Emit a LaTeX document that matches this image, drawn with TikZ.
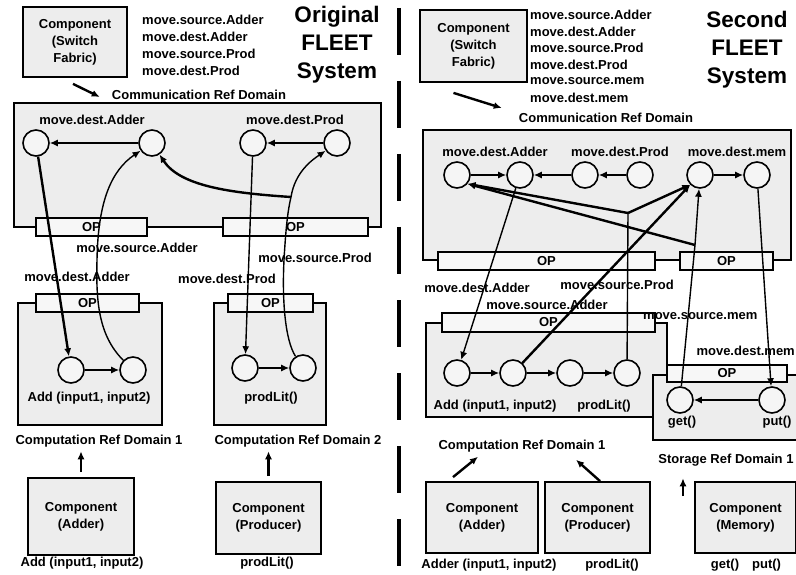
\documentclass[tikz,border=0pt]{standalone}
\usepackage{fontspec}
\setmainfont{Liberation Sans}
\usetikzlibrary{arrows.meta,positioning}

\begin{document}
\begin{tikzpicture}[x=1pt,y=-1pt,>={Latex[length=8pt,width=7pt]},
    font=\fontsize{13}{17}\selectfont\bfseries,
    box/.style={draw,line width=1.8pt,fill=black!7,align=center,inner sep=0pt},
    opbar/.style={draw,line width=1.8pt,fill=black!3,minimum height=18pt,inner sep=0pt},
    port/.style={circle,draw,line width=1.6pt,fill=black!4,minimum size=26pt,inner sep=0pt},
    lbl/.style={inner sep=0pt},
    title/.style={font=\fontsize{22.5}{28}\selectfont\bfseries,align=center},
    link/.style={->,line width=1.4pt},
    wire/.style={->,line width=2.4pt}]
  \useasboundingbox (0,0) rectangle (796,575);
  % separator
  \draw[line width=3.5pt,dash pattern=on 47pt off 26pt] (399,8) -- (399,567);

  % ===== original FLEET system =====
  \node[box,minimum width=104pt,minimum height=70pt] (sfL) at (75,42) {Component\\(Switch\\Fabric)};
  \foreach \msg [count=\i] in {move.source.Adder,move.dest.Adder,move.source.Prod,move.dest.Prod}
    \node[lbl,anchor=west] (msgL\i) at (142,3+17*\i) {\msg};
  \node[title] (titleL) at (337,45) {Original\\FLEET\\System};
  \node[lbl] (commL) at (199,95) {Communication Ref Domain};
  \draw[wire] ([shift={(-2,6)}]sfL.south) -- ([shift={(-12,2)}]commL.west);

  % communication domain
  \node[box,minimum width=367pt,minimum height=124pt] (cdomL) at (197.5,165) {};
  \node[opbar,minimum width=111pt] (opL1) at (91.5,227) {OP};
  \node[opbar,minimum width=145pt] (opL2) at (295.5,227) {OP};
  \foreach \n/\x in {1/36,2/152,3/253,4/337}
    \node[port] (cL\n) at (\x,143) {};
  \draw[link] (cL2) -- (cL1);
  \draw[link] (cL4) -- (cL3);
  \node[lbl] (dAdderL) at (92,120) {move.dest.Adder};
  \node[lbl] (dProdL) at (295,120) {move.dest.Prod};

  % computation domains
  \node[box,minimum width=144pt,minimum height=122pt] (compL1) at (90,364) {};
  \node[box,minimum width=112pt,minimum height=122pt] (compL2) at (270,364) {};
  \node[opbar,minimum width=103pt] (opL3) at (87.5,303) {OP};
  \node[opbar,minimum width=85pt] (opL4) at (270.5,303) {OP};
  \node[port] (aL1) at (71,370) {};
  \node[port] (aL2) at (133,370) {};
  \node[port] (pL1) at (245,368) {};
  \node[port] (pL2) at (303,368) {};
  \draw[link] (aL1) -- (aL2);
  \draw[link] (pL1) -- (pL2);
  \node[lbl] (fnAddL) at (89,398) {Add (input1, input2)};
  \node[lbl] (fnProdL) at (271,398) {prodLit()};

  % moves
  \draw[wire] (cL1) -- (aL1);
  \draw[link] (aL2) .. controls (98,335) and (96,300) .. (97,260) .. controls (98,200) and (112,170) .. (cL2);
  \draw[link] (cL3) -- (pL1);
  \coordinate (forkL) at (291,197);
  \draw[link] (pL2) .. controls (285,340) and (282,300) .. (284,260) .. controls (286,225) and (288,210) .. (forkL)
    .. controls (295,172) and (312,160) .. (cL4);
  \draw[wire] (forkL) .. controls (230,193) and (180,186) .. (cL2);
  \node[lbl] (sAdderL) at (137,248) {move.source.Adder};
  \node[lbl] (dAdderL2) at (77,277) {move.dest.Adder};
  \node[lbl] (sProdL) at (315,258) {move.source.Prod};
  \node[lbl] (dProdL2) at (227,279) {move.dest.Prod};

  % components
  \node[lbl] (crdL1) at (99,441) {Computation Ref Domain 1};
  \node[lbl] (crdL2) at (298,441) {Computation Ref Domain 2};
  \node[box,minimum width=106pt,minimum height=77pt] (adderL) at (81,516.5) {Component\\(Adder)};
  \node[box,minimum width=105pt,minimum height=72pt] (prodL) at (268.5,518) {Component\\(Producer)};
  \draw[wire,shorten <=5pt,shorten >=4pt] (adderL.north) -- (adderL.north |- crdL1.south);
  \draw[wire,shorten <=5pt,shorten >=4pt] (prodL.north) -- (prodL.north |- crdL2.south);
  \node[lbl] (apiAdderL) at (82,563) {Add (input1, input2)};
  \node[lbl] (apiProdL) at (267,563) {prodLit()};

  % ===== second FLEET system =====
  \node[box,minimum width=107pt,minimum height=72pt] (sfR) at (473.5,46) {Component\\(Switch\\Fabric)};
  \foreach \msg [count=\i] in {move.source.Adder,move.dest.Adder,move.source.Prod,move.dest.Prod,move.source.mem,move.dest.mem}
    \node[lbl,anchor=west] (msgR\i) at (530,-1.5+16.5*\i) {\msg};
  \node[title] (titleR) at (747,50) {Second\\FLEET\\System};
  \node[lbl] (commR) at (606,118) {Communication Ref Domain};
  \draw[wire] ([shift={(-20,10)}]sfR.south) -- ([shift={(-17,-10)}]commR.west);

  % communication domain
  \node[box,minimum width=368pt,minimum height=130pt] (cdomR) at (607,195) {};
  \node[opbar,minimum width=217pt] (opR1) at (546.5,261) {OP};
  \node[opbar,minimum width=93pt] (opR2) at (726.5,261) {OP};
  \foreach \n/\x in {1/457,2/520,3/585,4/640,5/700,6/757}
    \node[port] (rR\n) at (\x,175) {};
  \draw[link] (rR1) -- (rR2);
  \draw[link] (rR3) -- (rR2);
  \draw[link] (rR4) -- (rR3);
  \draw[link] (rR5) -- (rR6);
  \node[lbl] (dAdderR) at (495,152) {move.dest.Adder};
  \node[lbl] (dProdR) at (620,152) {move.dest.Prod};
  \node[lbl] (dMemR) at (737,152) {move.dest.mem};

  % computation and storage domains
  \node[box,minimum width=241pt,minimum height=94pt] (compR) at (546.5,370) {};
  \node[opbar,minimum width=213pt,minimum height=19pt] (opR3) at (548.5,322.5) {OP};
  \node[box,minimum width=150pt,minimum height=65pt] (storR) at (728,407.5) {};
  \node[opbar,minimum width=120pt,minimum height=17pt] (opR4) at (727,373.5) {OP};
  \foreach \n/\x in {1/457,2/513,3/570,4/627}
    \node[port] (bR\n) at (\x,373) {};
  \draw[link] (bR1) -- (bR2);
  \draw[link] (bR2) -- (bR3);
  \draw[link] (bR3) -- (bR4);
  \node[port] (getR) at (680,400) {};
  \node[port] (putR) at (772,400) {};
  \draw[link] (putR) -- (getR);
  \node[lbl] (fnAddR) at (495,406) {Add (input1, input2)};
  \node[lbl] (fnProdR) at (604,406) {prodLit()};
  \node[lbl] (fnGetR) at (682,422) {get()};
  \node[lbl] (fnPutR) at (777,422) {put()};

  % moves
  \draw[link] (rR2) -- (bR1);
  \coordinate (forkR1) at (628,213);
  \draw[line width=1.4pt] (bR4) -- (forkR1);
  \draw[wire] (forkR1) -- (rR1.-40);
  \draw[wire] (forkR1) -- (rR5.south west);
  \draw[wire] (bR2) -- (rR5.south west);
  \coordinate (forkR2) at (695,245);
  \draw[link] (getR) -- (forkR2) -- (rR5);
  \draw[wire] (forkR2) -- (rR1.-40);
  \draw[link] (rR6) -- (putR);
  \node[lbl] (dAdderR2) at (477,288) {move.dest.Adder};
  \node[lbl] (sProdR) at (617,285) {move.source.Prod};
  \node[lbl] (sAdderR) at (547,305) {move.source.Adder};
  \node[lbl,anchor=west] (sMemR) at (643,316) {move.source.mem};
  \node[lbl,anchor=east] (dMemR2) at (795,351) {move.dest.mem};

  % components
  \node[lbl] (crdR) at (522,446) {Computation Ref Domain 1};
  \node[lbl] (strR) at (726,460) {Storage Ref Domain 1};
  \node[box,minimum width=112pt,minimum height=71pt] (adderR) at (482,517.5) {Component\\(Adder)};
  \node[box,minimum width=105pt,minimum height=71pt] (prodR) at (597.5,517.5) {Component\\(Producer)};
  \node[box,minimum width=101pt,minimum height=71pt] (memR) at (745.5,517.5) {Component\\(Memory)};
  \draw[wire] ([shift={(-29,-4)}]adderR.north) -- ([shift={(-44,4.5)}]crdR.south);
  \draw[wire] ([shift={(2.5,0)}]prodR.north) -- ([shift={(54,7.5)}]crdR.south);
  \draw[wire] ([shift={(-62.5,15)}]memR.north) -- ([shift={(-43,12)}]strR.south);
  \node[lbl] (apiAdderR) at (489,565) {Adder (input1, input2)};
  \node[lbl] (apiProdR) at (612,565) {prodLit()};
  \node[lbl] (apiMemR) at (746,565) {get()\quad put()};
\end{tikzpicture}
\end{document}
